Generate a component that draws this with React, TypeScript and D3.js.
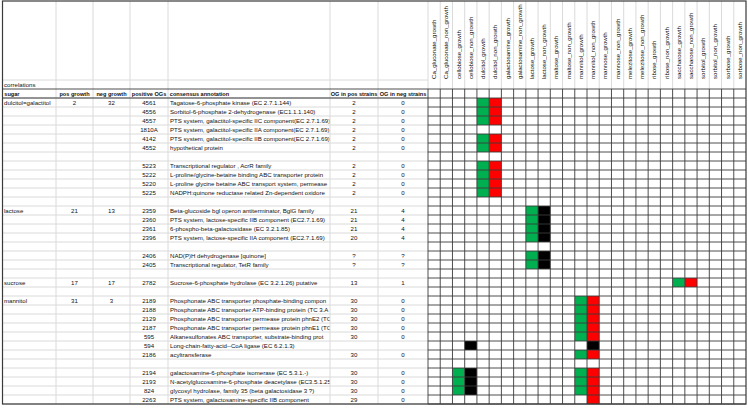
import React from "react";
import * as d3 from "d3";

const W = 748;
const H = 408;

const matrixColumns = [
  "Ca_gluconate_growth", "Ca_gluconate_non_growth", "cellobiose_growth", "cellobiose_non_growth",
  "dulcitol_growth", "dulcitol_non_growth", "galactosamine_growth", "galactosamine_non_growth",
  "lactose_growth", "lactose_non_growth", "maltose_growth", "maltose_non_growth",
  "mannitol_growth", "mannitol_non_growth", "mannose_growth", "mannose_non_growth",
  "melezitose_growth", "melezitose_non_growth", "ribose_growth", "ribose_non_growth",
  "saccharose_growth", "saccharose_non_growth", "sorbitol_growth", "sorbitol_non_growth",
  "sorbose_growth", "sorbose_non_growth",
];

const headerLabels = ["sugar", "pos growth", "neg growth", "positive OGs", "consensus annotation", "OG in pos strains", "OG in neg strains"];

// sugar groups: row index, name, pos growth, neg growth
const sugarRows = [0, 12, 20, 22];
const sugarNames = ["dulcitol=galactitol", "lactose", "sucrose", "mannitol"];
const posGrowth = ["2", "21", "17", "31"];
const negGrowth = ["32", "13", "17", "3"];

const positiveOGs = [
  "4561", "4556", "4557", "1810A", "4142", "4552", "",
  "5223", "5222", "5220", "5225", "",
  "2359", "2360", "2361", "2396", "",
  "2406", "2405", "",
  "2782", "",
  "2189", "2188", "2129", "2187", "595", "594", "2186", "",
  "2194", "2193", "824", "2263",
];

const annotations = [
  "Tagatose-6-phosphate kinase (EC 2.7.1.144)",
  "Sorbitol-6-phosphate 2-dehydrogenase (EC1.1.1.140)",
  "PTS system, galactitol-specific IIC component(EC 2.7.1.69)",
  "PTS system, galactitol-specific IIA component(EC 2.7.1.69)",
  "PTS system, galactitol-specific IIB component(EC 2.7.1.69)",
  "hypothetical protein",
  "",
  "Transcriptional regulator , AcrR family",
  "L-proline/glycine-betaine binding ABC transporter protein",
  "L-proline glycine betaine ABC transport system, permease",
  "NADPH:quinone reductase related Zn-dependent oxidore",
  "",
  "Beta-glucoside bgl operon antiterminator, BglG family",
  "PTS system, lactose-specific IIB component (EC2.7.1.69)",
  "6-phospho-beta-galactosidase (EC 3.2.1.85)",
  "PTS system, lactose-specific IIA component (EC2.7.1.69)",
  "",
  "NAD(P)H dehydrogenase [quinone]",
  "Transcriptional regulator, TetR family",
  "",
  "Sucrose-6-phosphate hydrolase (EC 3.2.1.26) putative",
  "",
  "Phosphonate ABC transporter phosphate-binding  compon",
  "Phosphonate ABC transporter ATP-binding protein (TC 3.A",
  "Phosphonate ABC transporter permease protein phnE2 (TC",
  "Phosphonate ABC transporter permease protein phnE1 (TC",
  "Alkanesulfonates ABC transporter, substrate-binding prot",
  "Long-chain-fatty-acid--CoA ligase (EC 6.2.1.3)",
  "acyltransferase",
  "",
  "galactosamine-6-phosphate isomerase (EC 5.3.1.-)",
  "N-acetylglucosamine-6-phosphate deacetylase (EC3.5.1.25",
  "glycosyl hydrolase, family 35 (beta galactosidase 3 ?)",
  "PTS system, galactosamine-specific IIB component",
];

const ogInPos = [
  "2", "2", "2", "2", "2", "2", "",
  "2", "2", "2", "2", "",
  "21", "21", "21", "20", "",
  "?", "?", "",
  "13", "",
  "30", "30", "30", "30", "30", "", "30", "",
  "30", "30", "30", "29",
];

const ogInNeg = [
  "0", "0", "0", "0", "0", "0", "",
  "0", "0", "0", "0", "",
  "4", "4", "4", "4", "",
  "?", "?", "",
  "1", "",
  "0", "0", "0", "0", "0", "", "0", "",
  "0", "0", "0", "0",
];

// coloured matrix cells: [row, column index, kind]
const dulcitolRows = [0, 1, 2, 4, 5, 7, 8, 9, 10];
const lactoseRows = [12, 13, 14, 15, 17, 18];
const mannitolRows = [22, 23, 24, 25, 26, 28, 30, 31, 32];
const cellobioseRows = [30, 31, 32];

const cells: [number, number, string][] = [
  ...dulcitolRows.flatMap((r) => [[r, 4, "g"], [r, 5, "r"]] as [number, number, string][]),
  ...lactoseRows.flatMap((r) => [[r, 8, "g"], [r, 9, "k"]] as [number, number, string][]),
  [20, 20, "g"], [20, 21, "r"],
  ...mannitolRows.flatMap((r) => [[r, 12, "g"], [r, 13, "r"]] as [number, number, string][]),
  [27, 13, "k"], [33, 13, "r"],
  ...cellobioseRows.flatMap((r) => [[r, 2, "g"], [r, 3, "k"]] as [number, number, string][]),
  [27, 3, "k"],
];

const cellColor: Record<string, string> = { g: "#00b050", r: "#ff0000", k: "#000000" };

const FONT = "'Liberation Sans', Arial, sans-serif";
const FS = 6.1;

export default function App() {
  const nRows = positiveOGs.length;
  const left = 2.5;
  const top = 1;
  const labelBottom = 80;
  const headTop = 89;
  const dataTop = 98;
  const rowH = 9;
  const bottom = dataTop + nRows * rowH;
  const right = 746;
  const colEdges = [left, 56, 93, 130, 168, 330, 378, 428];
  const mx = d3.scaleBand<string>().domain(matrixColumns).range([428, right]);
  const ry = d3.scaleLinear().domain([0, nRows]).range([dataTop, bottom]);
  const rows = d3.range(nRows);
  const light = "#dadada";
  const dark = "#3a3a3a";
  const center = (i: number) => (colEdges[i] + colEdges[i + 1]) / 2;
  const textY = (r: number) => ry(r) + rowH / 2 + 2.2;

  return (
    <svg width={W} height={H} style={{ position: "absolute", left: 0, top: 0, background: "#fff" }} fontFamily={FONT} fontSize={FS}>
      <defs>
        <clipPath id="annClip">
          <rect x={168} y={0} width={330 - 168 - 0.5} height={H} />
        </clipPath>
      </defs>
      <rect x={0} y={0} width={W} height={H} fill="#fff" />
      {/* light spreadsheet gridlines in the left table */}
      {rows.concat([nRows]).map((r) => (
        <line key={"hl" + r} x1={left} x2={428} y1={ry(r)} y2={ry(r)} stroke={light} strokeWidth={1} />
      ))}
      <line x1={left} x2={428} y1={labelBottom} y2={labelBottom} stroke={light} />
      {colEdges.slice(1, -1).map((x, i) => (
        <line key={"vl" + i} x1={x} x2={x} y1={top} y2={bottom} stroke={light} />
      ))}
      {/* light lines in matrix label area */}
      {matrixColumns.map((c, i) => (
        <line key={"ml" + i} x1={mx(c)!} x2={mx(c)!} y1={top} y2={headTop} stroke={light} />
      ))}

      {/* coloured cells */}
      {cells.map(([r, c, k], i) => (
        <rect key={"c" + i} x={mx(matrixColumns[c])!} y={ry(r)} width={mx.bandwidth()} height={rowH} fill={cellColor[k]} />
      ))}

      {/* matrix dark grid */}
      {d3.range(-1, nRows + 1).map((r) => (
        <line key={"mh" + r} x1={428} x2={right} y1={r < 0 ? headTop : ry(r)} y2={r < 0 ? headTop : ry(r)} stroke={dark} strokeWidth={0.9} />
      ))}
      {matrixColumns.map((c, i) => (
        <line key={"mv" + i} x1={mx(c)!} x2={mx(c)!} y1={headTop} y2={bottom} stroke={dark} strokeWidth={0.9} />
      ))}

      {/* header separators */}
      <line x1={left} x2={428} y1={headTop} y2={headTop} stroke={dark} strokeWidth={0.9} />
      <line x1={left} x2={428} y1={dataTop} y2={dataTop} stroke={dark} strokeWidth={1} />

      {/* outer border */}
      <rect x={left} y={top} width={right - left} height={bottom - top} fill="none" stroke={dark} strokeWidth={1.2} />

      {/* matrix column labels */}
      {matrixColumns.map((c) => {
        const cx = mx(c)! + mx.bandwidth() / 2 + 2;
        return (
          <text key={"lab" + c} transform={`translate(${cx},${labelBottom - 1}) rotate(-90)`} fill="#111">
            {c}
          </text>
        );
      })}

      <text x={4} y={headTop - 2} fill="#111">correlations</text>

      {/* header row */}
      {headerLabels.map((h, i) => {
        const isLeft = i === 0 || i === 4;
        return (
          <text key={"h" + i} x={isLeft ? colEdges[i] + 1.8 : center(i)} y={headTop + 6.8} textAnchor={isLeft ? "start" : "middle"} fontWeight="bold" fontSize={5.6} fill="#111">
            {h}
          </text>
        );
      })}

      {/* sugars */}
      {sugarRows.map((r, i) => (
        <g key={"s" + i} fill="#111">
          <text x={4} y={textY(r)}>{sugarNames[i]}</text>
          <text x={center(1)} y={textY(r)} textAnchor="middle">{posGrowth[i]}</text>
          <text x={center(2)} y={textY(r)} textAnchor="middle">{negGrowth[i]}</text>
        </g>
      ))}

      {/* data rows */}
      {rows.map((r) => (
        <g key={"r" + r} fill="#111">
          <text x={center(3)} y={textY(r)} textAnchor="middle">{positiveOGs[r]}</text>
          <text x={170} y={textY(r)} clipPath="url(#annClip)">{annotations[r]}</text>
          <text x={center(5)} y={textY(r)} textAnchor="middle">{ogInPos[r]}</text>
          <text x={center(6)} y={textY(r)} textAnchor="middle">{ogInNeg[r]}</text>
        </g>
      ))}
    </svg>
  );
}
